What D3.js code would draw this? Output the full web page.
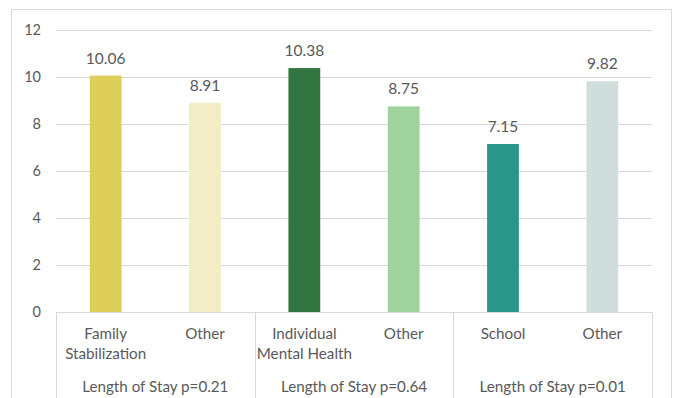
<!DOCTYPE html>
<html>
<head>
<meta charset="utf-8">
<script src="https://cdn.jsdelivr.net/npm/d3@7"></script>
<style>
  html, body { margin: 0; padding: 0; background: #fff; }
  svg { display: block; }
  text { font-family: Lato, "Open Sans", sans-serif; fill: #595959; }
</style>
</head>
<body>
<svg id="chart" width="673" height="398"></svg>
<script>
// Average length of stay by referral reason vs. other
const categories = ["Family\nStabilization", "Other", "Individual\nMental Health", "Other", "School", "Other"];
const values = [10.06, 8.91, 10.38, 8.75, 7.15, 9.82];
const colors = ["#DDCF5A", "#F2EDC7", "#317541", "#A0D29D", "#2A968A", "#CFDEDD"];
const groups = ["Length of Stay p=0.21", "Length of Stay p=0.64", "Length of Stay p=0.01"];
const yTicks = [0, 2, 4, 6, 8, 10, 12];

const svg = d3.select("#chart");
const margin = { left: 56, right: 21, top: 30, bottom: 86 };
const W = 673, H = 398;
const plotW = W - margin.left - margin.right;
const fs = 15.2;

// outer frame
svg.append("rect")
  .attr("x", 11.5).attr("y", 9.5)
  .attr("width", 660).attr("height", 400)
  .attr("fill", "none").attr("stroke", "#D9D9D9");

const x = d3.scaleBand()
  .domain(d3.range(categories.length))
  .range([margin.left, margin.left + plotW])
  .paddingInner(0.68).paddingOuter(0.34);

const y = d3.scaleLinear().domain([0, 12]).range([312, 30]);

// gridlines
svg.append("g").selectAll("line").data(yTicks.filter(d => d > 0)).join("line")
  .attr("x1", margin.left).attr("x2", margin.left + plotW)
  .attr("y1", d => Math.round(y(d)) + 0.5).attr("y2", d => Math.round(y(d)) + 0.5)
  .attr("stroke", "#D9D9D9").attr("stroke-width", 1);

// y axis labels
const yAxis = d3.axisLeft(y).tickValues(yTicks).tickSize(0).tickPadding(0);
const ya = svg.append("g").attr("transform", `translate(${margin.left - 15},0)`).call(yAxis);
ya.select(".domain").remove();
ya.selectAll("text").attr("font-size", 14.5).attr("fill", "#595959")
  .style("font-family", "Lato, sans-serif");

// bars
svg.append("g").selectAll("rect").data(values).join("rect")
  .attr("x", (d, i) => x(i))
  .attr("width", x.bandwidth())
  .attr("y", d => y(d))
  .attr("height", d => y(0) - y(d))
  .attr("fill", (d, i) => colors[i]);

// value labels
svg.append("g").selectAll("text").data(values).join("text")
  .attr("x", (d, i) => x(i) + x.bandwidth() / 2)
  .attr("y", d => y(d) - 12)
  .attr("text-anchor", "middle")
  .attr("font-size", 15.5)
  .text(d => d.toFixed(2));

// category axis line and group separators
const y0 = Math.round(y(0)) + 0.5;
svg.append("line")
  .attr("x1", margin.left).attr("x2", margin.left + plotW)
  .attr("y1", y0).attr("y2", y0)
  .attr("stroke", "#D9D9D9");

const step = plotW / groups.length;
svg.append("g").selectAll("line").data(d3.range(groups.length + 1)).join("line")
  .attr("x1", i => Math.round(margin.left + i * step) + 0.5)
  .attr("x2", i => Math.round(margin.left + i * step) + 0.5)
  .attr("y1", y0).attr("y2", H)
  .attr("stroke", "#D9D9D9");

// category labels
const cat = svg.append("g").selectAll("text").data(categories).join("text")
  .attr("text-anchor", "middle")
  .attr("font-size", fs)
  .attr("transform", (d, i) => `translate(${x(i) + x.bandwidth() / 2},339)`);
cat.selectAll("tspan").data(d => d.split("\n")).join("tspan")
  .attr("x", 0).attr("dy", (d, j) => j === 0 ? 0 : 20)
  .text(d => d);

// group labels
svg.append("g").selectAll("text").data(groups).join("text")
  .attr("x", (d, i) => margin.left + (i + 0.5) * step)
  .attr("y", 392)
  .attr("text-anchor", "middle")
  .attr("font-size", fs)
  .text(d => d);
</script>
</body>
</html>
